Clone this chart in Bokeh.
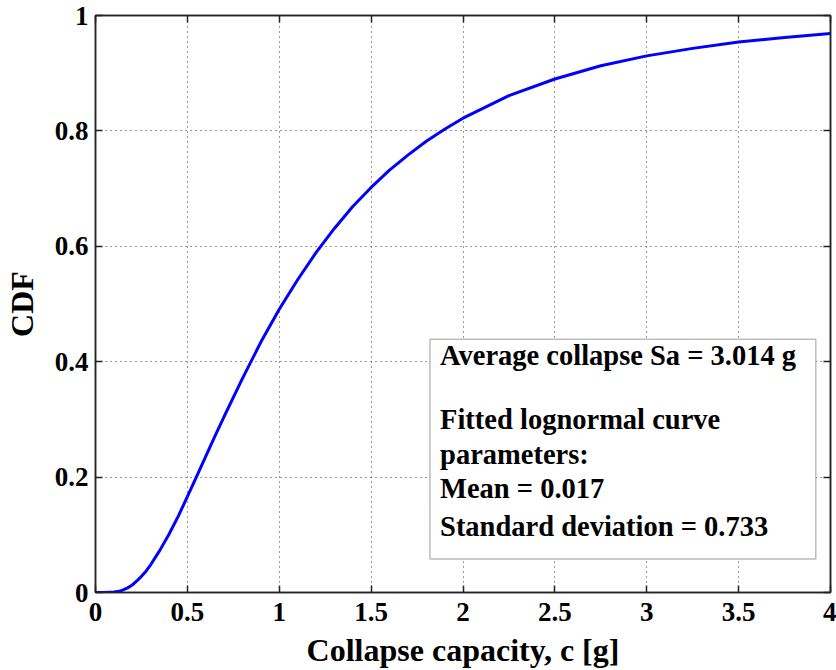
from bokeh.plotting import figure
from bokeh.models import (Range1d, FixedTicker, LinearAxis, BoxAnnotation, Label)
from bokeh.embed import file_html
from bokeh.resources import INLINE

# Curve values
cap = [0.0, 0.05, 0.1, 0.13, 0.15, 0.175, 0.2, 0.225, 0.25, 0.275, 0.3, 0.35, 0.4, 0.45,
       0.5, 0.55, 0.6, 0.65, 0.7, 0.8, 0.9, 1.0, 1.1, 1.2, 1.3, 1.4, 1.5, 1.6, 1.7,
       1.8, 1.9, 2.0, 2.25, 2.5, 2.75, 3.0, 3.25, 3.5, 3.75, 4.0]
cdf = [0.0, 0.0, 0.0008, 0.002, 0.0045, 0.008, 0.013, 0.02, 0.028, 0.037, 0.048, 0.073,
       0.101, 0.132, 0.166, 0.201, 0.236, 0.271, 0.305, 0.371, 0.434, 0.491, 0.542,
       0.589, 0.631, 0.669, 0.702, 0.732, 0.758, 0.782, 0.803, 0.822, 0.861, 0.890,
       0.913, 0.930, 0.943, 0.954, 0.962, 0.969]

x_ticks = [0, 0.5, 1, 1.5, 2, 2.5, 3, 3.5, 4]
x_tick_labels = ["0", "0.5", "1", "1.5", "2", "2.5", "3", "3.5", "4"]
y_ticks = [0, 0.2, 0.4, 0.6, 0.8, 1]
y_tick_labels = ["0", "0.2", "0.4", "0.6", "0.8", "1"]

box_lines = ["Average collapse Sa = 3.014 g", "",
             "Fitted lognormal curve", "parameters:",
             "Mean = 0.017", "Standard deviation = 0.733"]

FONT = "'Liberation Serif', 'Times New Roman', Times, serif"

p = figure(width=836, height=670, output_backend="svg", toolbar_location=None,
           x_range=Range1d(0, 4), y_range=Range1d(0, 1),
           min_border_left=92, min_border_right=6, min_border_top=15, min_border_bottom=78)
p.outline_line_color = "#222222"
p.outline_line_width = 1.5
p.background_fill_color = "white"
p.border_fill_color = "white"

p.line(cap, cdf, line_color="#0000ff", line_width=3)

def style_axis(ax):
    ax.axis_line_color = "#222222"
    ax.axis_line_width = 1.5
    ax.major_tick_in = 7
    ax.major_tick_out = 0
    ax.minor_tick_in = 0
    ax.minor_tick_out = 0
    ax.major_tick_line_color = "#222222"
    ax.major_tick_line_width = 1.5
    ax.major_label_text_font = FONT
    ax.major_label_text_font_style = "bold"
    ax.major_label_text_font_size = "27px"
    ax.major_label_text_color = "black"
    ax.axis_label_text_font = FONT
    ax.axis_label_text_font_style = "bold"
    ax.axis_label_text_font_size = "32px"
    ax.axis_label_text_color = "black"

xa = p.xaxis[0]
xa.ticker = FixedTicker(ticks=x_ticks)
xa.major_label_overrides = {t: l for t, l in zip(x_ticks, x_tick_labels)}
xa.axis_label = "Collapse capacity, c [g]"
style_axis(xa)
xa.major_label_standoff = 10
xa.axis_label_standoff = 8

ya = p.yaxis[0]
ya.ticker = FixedTicker(ticks=y_ticks)
ya.major_label_overrides = {t: l for t, l in zip(y_ticks, y_tick_labels)}
ya.axis_label = "CDF"
style_axis(ya)
ya.major_label_standoff = 7
ya.axis_label_standoff = 12

top = LinearAxis(ticker=FixedTicker(ticks=x_ticks))
style_axis(top)
top.major_label_overrides = {t: "" for t in x_ticks}
top.major_label_standoff = 0
p.add_layout(top, "above")
right = LinearAxis(ticker=FixedTicker(ticks=y_ticks))
style_axis(right)
right.major_label_overrides = {t: "" for t in y_ticks}
right.major_label_standoff = 0
p.add_layout(right, "right")

for g in (p.xgrid[0], p.ygrid[0]):
    g.grid_line_color = "#333333"
    g.grid_line_dash = "1 4"
    g.grid_line_width = 1
p.xgrid[0].ticker = FixedTicker(ticks=x_ticks)
p.ygrid[0].ticker = FixedTicker(ticks=y_ticks)

# Annotation box
p.add_layout(BoxAnnotation(left=1.82, right=3.92, bottom=0.058, top=0.439,
                           fill_color="white", fill_alpha=1.0,
                           line_color="#222222", line_width=1.5, level="overlay"))
ys = [0.41, 0.36, 0.30, 0.24, 0.18, 0.115]
for txt, yy in zip(box_lines, ys):
    if txt:
        p.add_layout(Label(x=1.875, y=yy, text=txt, text_font=FONT,
                           text_font_style="bold", text_font_size="28.5px",
                           text_color="black", text_baseline="middle",
                           level="overlay"))

open("out.html", "w").write(file_html(p, INLINE))
